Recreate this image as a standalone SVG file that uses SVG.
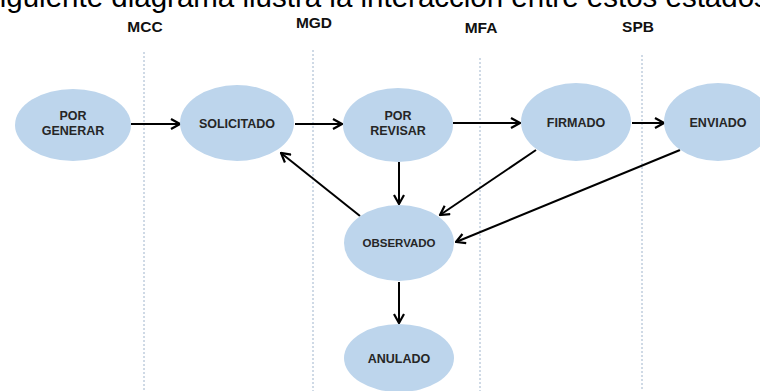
<svg xmlns="http://www.w3.org/2000/svg" width="760" height="391" viewBox="0 0 760 391">
<style>
.node{fill:#bdd5ec;}
.lbl{font-family:"Liberation Sans",Arial,sans-serif;font-weight:bold;font-size:12.5px;fill:#262626;text-anchor:middle;}
.col{font-family:"Liberation Sans",Arial,sans-serif;font-weight:bold;font-size:15.5px;fill:#111;text-anchor:middle;}
.lane{stroke:#9fb4cc;stroke-width:1;stroke-dasharray:2,2;fill:none;}
.conn{stroke:#000;stroke-width:2;fill:none;marker-end:url(#arr);}
.cap{font-family:"Liberation Sans",Arial,sans-serif;font-size:29.5px;fill:#000;}
</style>
<defs>
<marker id="arr" viewBox="0 0 12 12" refX="11" refY="6" markerWidth="12" markerHeight="12" markerUnits="userSpaceOnUse" orient="auto">
<path d="M2,1 L11,6 L2,11" fill="none" stroke="#000" stroke-width="2.2"/>
</marker>
</defs>
<rect width="760" height="391" fill="#fff"/>
<text class="cap" x="-15" y="7">siguiente diagrama ilustra la interacción entre estos estados</text>
<g id="lanes">
<text class="col" x="145" y="32">MCC</text>
<text class="col" x="314" y="28">MGD</text>
<text class="col" x="481" y="33">MFA</text>
<text class="col" x="638" y="32">SPB</text>
<line class="lane" x1="144" y1="52" x2="144" y2="391"/>
<line class="lane" x1="313" y1="50" x2="313" y2="391"/>
<line class="lane" x1="480" y1="58" x2="480" y2="391"/>
<line class="lane" x1="642" y1="55" x2="642" y2="391"/>
</g>
<g id="connectors">
<line class="conn" x1="131" y1="124" x2="180" y2="124"/>
<line class="conn" x1="295" y1="124" x2="342" y2="124"/>
<line class="conn" x1="453" y1="123" x2="520" y2="123"/>
<line class="conn" x1="632" y1="123" x2="664" y2="123"/>
<line class="conn" x1="399" y1="162" x2="399" y2="204"/>
<line class="conn" x1="360" y1="216" x2="281" y2="153"/>
<line class="conn" x1="536" y1="150" x2="440" y2="215"/>
<line class="conn" x1="680" y1="150" x2="456" y2="242"/>
<line class="conn" x1="399" y1="282" x2="399" y2="323"/>
</g>
<g id="por-generar"><ellipse class="node" cx="73" cy="125" rx="58" ry="36"/><text class="lbl" x="73" y="120">POR</text><text class="lbl" x="73" y="135">GENERAR</text></g>
<g id="solicitado"><ellipse class="node" cx="237" cy="123" rx="57" ry="38"/><text class="lbl" x="237" y="128">SOLICITADO</text></g>
<g id="por-revisar"><ellipse class="node" cx="398" cy="125" rx="55" ry="37"/><text class="lbl" x="398" y="120">POR</text><text class="lbl" x="398" y="135">REVISAR</text></g>
<g id="firmado"><ellipse class="node" cx="576" cy="122" rx="55" ry="39"/><text class="lbl" x="576" y="127">FIRMADO</text></g>
<g id="enviado"><ellipse class="node" cx="718" cy="122" rx="54" ry="39"/><text class="lbl" x="718" y="127">ENVIADO</text></g>
<g id="observado"><ellipse class="node" cx="399" cy="243" rx="55" ry="38"/><text class="lbl" x="399" y="247" style="font-size:11.5px">OBSERVADO</text></g>
<g id="anulado"><ellipse class="node" cx="399" cy="358" rx="55" ry="34"/><text class="lbl" x="399" y="363">ANULADO</text></g>
</svg>
